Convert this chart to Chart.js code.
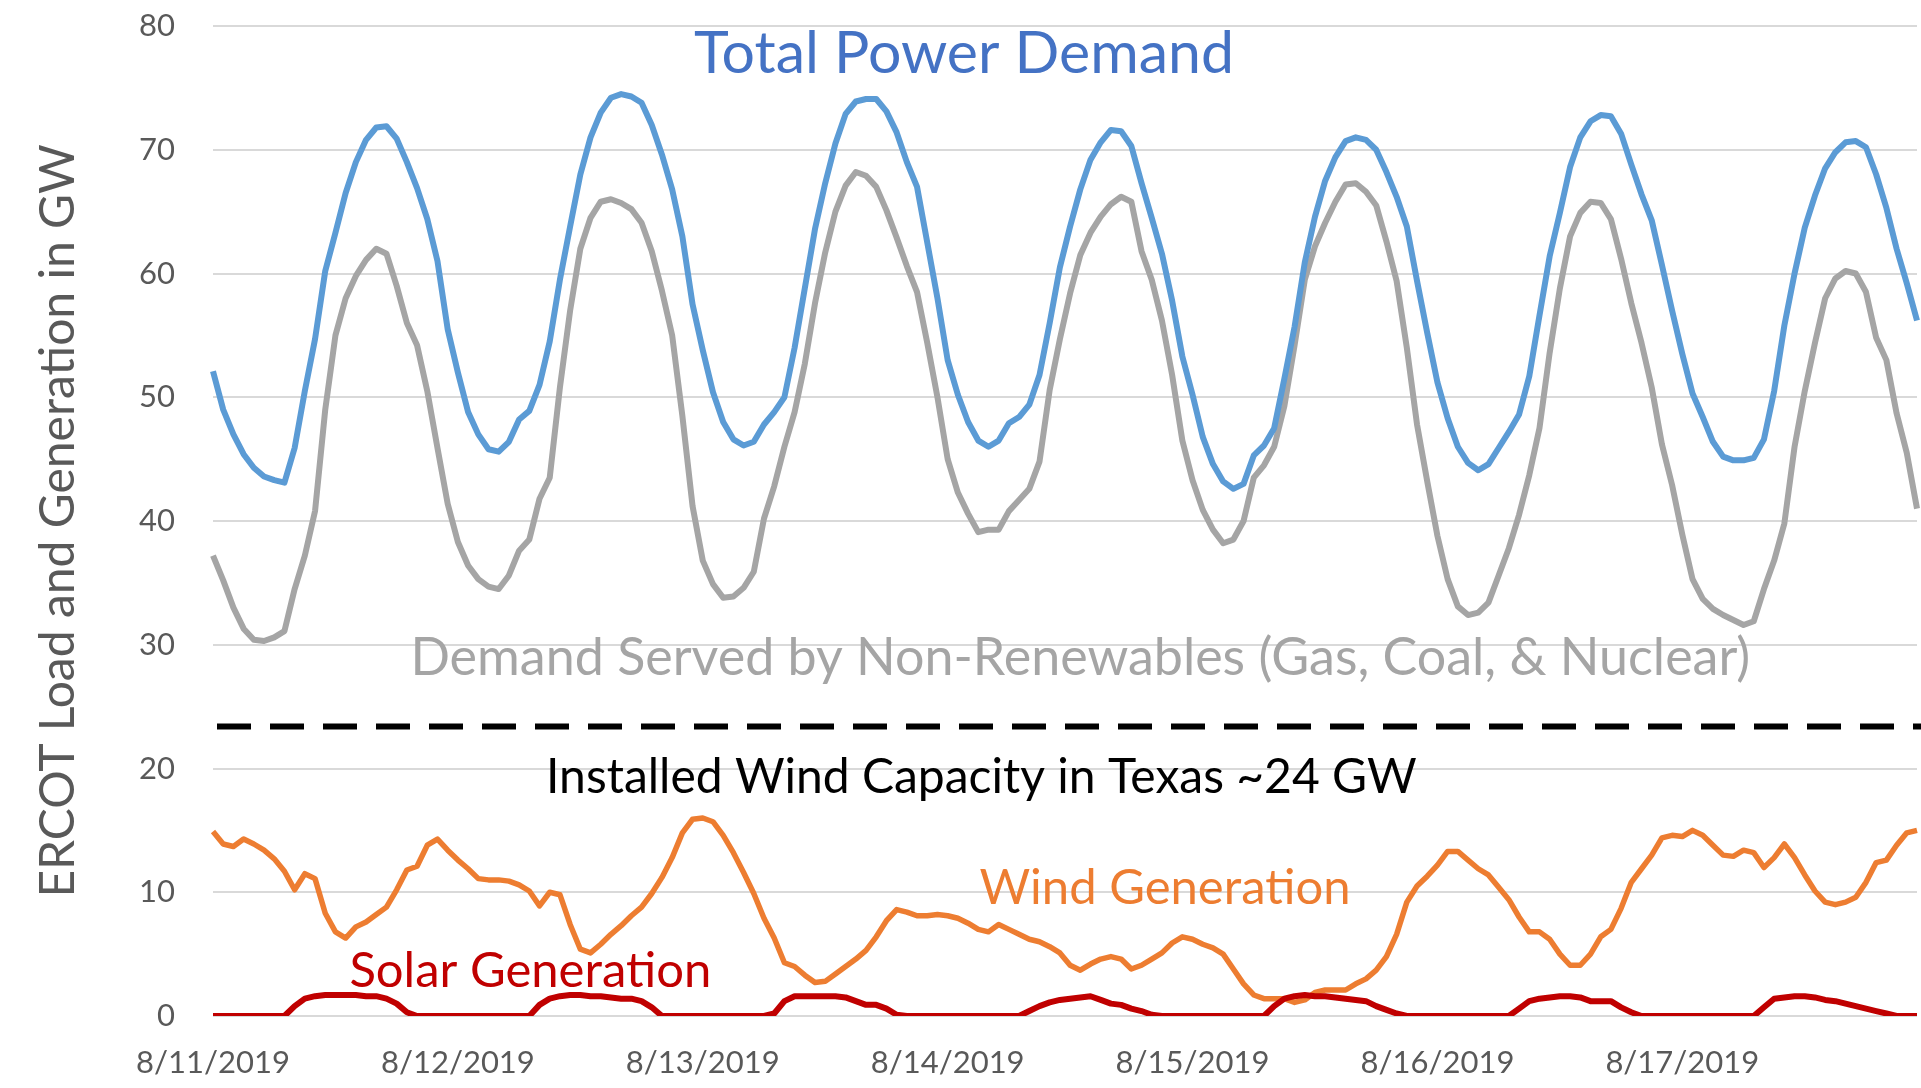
<!DOCTYPE html>
<html>
<head>
<meta charset="utf-8">
<title>ERCOT load and generation, 8/11/2019 - 8/17/2019</title>
<script src="https://cdn.jsdelivr.net/npm/chart.js@4.4.1/dist/chart.umd.min.js"></script>
<style>
  html, body { margin: 0; padding: 0; background: #fff; }
  #wrap { width: 1921px; height: 1088px; }
</style>
</head>
<body>
<div id="wrap"><canvas id="chart" width="1921" height="1088"></canvas></div>
<script>
// one tick label per day, hourly values below (24 per day)
const dayLabels = ['8/11/2019', '8/12/2019', '8/13/2019', '8/14/2019', '8/15/2019', '8/16/2019', '8/17/2019'];

// total load, GW
const totalDemand = [
  52.1, 49, 47, 45.4, 44.3, 43.6, 43.3, 43.1, 45.9, 50.5, 54.7, 60.2, 63.3, 66.5, 69, 70.8, 71.8, 71.9, 70.9, 69, 66.9, 64.4, 61, 55.5,
  52, 48.8, 47, 45.8, 45.6, 46.4, 48.2, 48.9, 51, 54.5, 59.5, 63.8, 68, 71, 73, 74.2, 74.5, 74.3, 73.8, 72, 69.6, 66.8, 63, 57.5,
  53.8, 50.4, 48, 46.6, 46.1, 46.4, 47.8, 48.8, 50, 54, 58.8, 63.6, 67.3, 70.5, 72.9, 73.9, 74.1, 74.1, 73.1, 71.4, 69, 67, 62.5, 58,
  53, 50.2, 48, 46.5, 46, 46.5, 47.9, 48.4, 49.4, 51.8, 56, 60.5, 63.8, 66.8, 69.2, 70.6, 71.6, 71.5, 70.3, 67.3, 64.5, 61.6, 57.8, 53.3,
  50.2, 46.8, 44.6, 43.2, 42.6, 43, 45.3, 46.1, 47.5, 51.5, 55.7, 60.9, 64.6, 67.5, 69.4, 70.7, 71, 70.8, 70, 68.2, 66.2, 63.8, 59.4, 55.2,
  51.2, 48.3, 46, 44.7, 44.1, 44.6, 45.9, 47.2, 48.6, 51.7, 56.6, 61.4, 64.9, 68.6, 71, 72.3, 72.8, 72.7, 71.3, 68.8, 66.4, 64.3, 60.7, 57,
  53.5, 50.3, 48.4, 46.4, 45.2, 44.9, 44.9, 45.1, 46.6, 50.5, 55.8, 60, 63.7, 66.3, 68.5, 69.8, 70.6, 70.7, 70.2, 68, 65.3, 62, 59.2, 56.2
];

// load served by gas, coal and nuclear, GW
const nonRenewables = [
  37.2, 35.2, 33, 31.3, 30.4, 30.3, 30.6, 31.1, 34.5, 37.2, 40.8, 49, 55, 58, 59.8, 61.1, 62, 61.6, 59, 56, 54.2, 50.5, 45.9, 41.4,
  38.3, 36.4, 35.3, 34.7, 34.5, 35.6, 37.6, 38.5, 41.8, 43.5, 50.8, 57, 62, 64.5, 65.8, 66, 65.7, 65.2, 64.1, 61.8, 58.6, 55, 48.5, 41.2,
  36.8, 34.9, 33.8, 33.9, 34.6, 35.9, 40.2, 42.8, 46, 48.8, 52.7, 57.6, 61.7, 65, 67.1, 68.2, 67.9, 67, 65.1, 62.9, 60.6, 58.5, 54.4, 50,
  45, 42.3, 40.6, 39.1, 39.3, 39.3, 40.8, 41.7, 42.6, 44.8, 50.6, 54.7, 58.4, 61.5, 63.3, 64.6, 65.6, 66.2, 65.8, 61.8, 59.5, 56.2, 51.8, 46.5,
  43.3, 40.9, 39.3, 38.2, 38.5, 40, 43.5, 44.5, 46, 49.3, 54.2, 59.5, 62.2, 64.1, 65.8, 67.2, 67.3, 66.6, 65.5, 62.6, 59.4, 54, 47.8, 43.2,
  38.8, 35.3, 33.1, 32.4, 32.6, 33.4, 35.6, 37.8, 40.5, 43.7, 47.5, 53.6, 58.8, 63, 64.9, 65.8, 65.7, 64.4, 61.2, 57.6, 54.4, 50.8, 46.2, 42.9,
  38.9, 35.3, 33.7, 32.9, 32.4, 32, 31.6, 31.9, 34.5, 36.8, 39.8, 46, 50.5, 54.4, 58, 59.6, 60.2, 60, 58.5, 54.8, 53, 48.7, 45.5, 41
];

// wind generation, GW
const windGen = [
  14.9, 13.9, 13.7, 14.3, 13.9, 13.4, 12.7, 11.7, 10.2, 11.5, 11.1, 8.3, 6.8, 6.3, 7.2, 7.6, 8.2, 8.8, 10.2, 11.8, 12.1, 13.8, 14.3, 13.4,
  12.6, 11.9, 11.1, 11, 11, 10.9, 10.6, 10.1, 8.9, 10, 9.8, 7.4, 5.4, 5.1, 5.8, 6.6, 7.3, 8.1, 8.8, 9.9, 11.2, 12.8, 14.8, 15.9,
  16, 15.7, 14.6, 13.2, 11.6, 9.9, 7.9, 6.3, 4.3, 4, 3.3, 2.7, 2.8, 3.4, 4, 4.6, 5.3, 6.4, 7.7, 8.6, 8.4, 8.1, 8.1, 8.2,
  8.1, 7.9, 7.5, 7, 6.8, 7.4, 7, 6.6, 6.2, 6, 5.6, 5.1, 4.1, 3.7, 4.2, 4.6, 4.8, 4.6, 3.8, 4.1, 4.6, 5.1, 5.9, 6.4,
  6.2, 5.8, 5.5, 5, 3.8, 2.6, 1.7, 1.4, 1.4, 1.4, 1.1, 1.3, 1.9, 2.1, 2.1, 2.1, 2.6, 3, 3.7, 4.8, 6.6, 9.2, 10.5, 11.3,
  12.2, 13.3, 13.3, 12.6, 11.9, 11.4, 10.4, 9.4, 8, 6.8, 6.8, 6.2, 5, 4.1, 4.1, 5, 6.4, 7, 8.7, 10.8, 11.9, 13, 14.4, 14.6,
  14.5, 15, 14.6, 13.8, 13, 12.9, 13.4, 13.2, 12, 12.8, 13.9, 12.8, 11.4, 10.1, 9.2, 9, 9.2, 9.6, 10.8, 12.4, 12.6, 13.8, 14.8, 15
];

// solar generation, GW
const solarGen = [
  0, 0, 0, 0, 0, 0, 0, 0, 0.8, 1.4, 1.6, 1.7, 1.7, 1.7, 1.7, 1.6, 1.6, 1.4, 1, 0.3, 0, 0, 0, 0,
  0, 0, 0, 0, 0, 0, 0, 0, 0.9, 1.4, 1.6, 1.7, 1.7, 1.6, 1.6, 1.5, 1.4, 1.4, 1.2, 0.7, 0, 0, 0, 0,
  0, 0, 0, 0, 0, 0, 0, 0.2, 1.2, 1.6, 1.6, 1.6, 1.6, 1.6, 1.5, 1.2, 0.9, 0.9, 0.6, 0.1, 0, 0, 0, 0,
  0, 0, 0, 0, 0, 0, 0, 0, 0.4, 0.8, 1.1, 1.3, 1.4, 1.5, 1.6, 1.3, 1, 0.9, 0.6, 0.4, 0.1, 0, 0, 0,
  0, 0, 0, 0, 0, 0, 0, 0, 0.8, 1.4, 1.6, 1.7, 1.6, 1.6, 1.5, 1.4, 1.3, 1.2, 0.8, 0.5, 0.2, 0, 0, 0,
  0, 0, 0, 0, 0, 0, 0, 0, 0.6, 1.2, 1.4, 1.5, 1.6, 1.6, 1.5, 1.2, 1.2, 1.2, 0.7, 0.3, 0, 0, 0, 0,
  0, 0, 0, 0, 0, 0, 0, 0, 0.7, 1.4, 1.5, 1.6, 1.6, 1.5, 1.3, 1.2, 1, 0.8, 0.6, 0.4, 0.2, 0, 0, 0
];

// installed wind capacity reference line, GW
const windCapacity = 23.4;

const hours = [];
dayLabels.forEach((d) => {
  for (let h = 0; h < 24; h++) hours.push(d + ' ' + h + ':00');
});

// in-plot labels, anchored in chart units (hour index, GW)
const notes = [
  { text: 'Total Power Demand', color: '#4472C4', size: 59, hour: 73.6, gw: 77.7 },
  { text: 'Demand Served by Non-Renewables (Gas, Coal, & Nuclear)', color: '#A5A5A5', size: 52, hour: 85, gw: 28.9 },
  { text: 'Installed Wind Capacity in Texas ~24 GW', color: '#000000', size: 48, hour: 75.3, gw: 19.3 },
  { text: 'Wind Generation', color: '#ED7D31', size: 49, hour: 93.3, gw: 10.3 },
  { text: 'Solar Generation', color: '#C00000', size: 49, hour: 31.1, gw: 3.6 }
];

const overlay = {
  id: 'overlay',
  beforeDatasetsDraw(chart) {
    const { ctx, chartArea, scales } = chart;
    const y = scales.y.getPixelForValue(windCapacity);
    ctx.save();
    ctx.strokeStyle = '#000';
    ctx.lineWidth = 6;
    ctx.setLineDash([34, 19]);
    ctx.beginPath();
    ctx.moveTo(chartArea.left + 4, y);
    ctx.lineTo(chartArea.right + 4, y);
    ctx.stroke();
    ctx.restore();
  },
  afterDatasetsDraw(chart) {
    const { ctx, scales } = chart;
    ctx.save();
    ctx.textAlign = 'center';
    ctx.textBaseline = 'middle';
    notes.forEach((n) => {
      ctx.font = n.size + 'px Lato';
      ctx.fillStyle = n.color;
      ctx.fillText(n.text, scales.x.getPixelForValue(n.hour), scales.y.getPixelForValue(n.gw));
    });
    ctx.restore();
  }
};

function series(data, color, width) {
  return {
    data: data,
    borderColor: color,
    borderWidth: width,
    pointRadius: 0,
    tension: 0,
    fill: false,
    borderJoinStyle: 'round'
  };
}

Chart.defaults.font.family = 'Lato';

new Chart(document.getElementById('chart'), {
  type: 'line',
  data: {
    labels: hours,
    datasets: [
      series(solarGen, '#C00000', 6),
      series(windGen, '#ED7D31', 5.5),
      series(totalDemand, '#5B9BD5', 6),
      series(nonRenewables, '#A5A5A5', 6)
    ]
  },
  options: {
    responsive: false,
    devicePixelRatio: 1,
    animation: false,
    layout: { padding: { top: 26, right: 4, left: 0, bottom: 0 } },
    plugins: { legend: { display: false }, tooltip: { enabled: false } },
    scales: {
      x: {
        type: 'category',
        grid: { display: false },
        border: { display: false },
        afterFit(scale) { scale.height = 72; },
        ticks: {
          autoSkip: false,
          maxRotation: 0,
          padding: 20,
          color: '#595959',
          font: { size: 31 },
          callback(value, index) {
            return index % 24 === 0 ? dayLabels[index / 24] : null;
          }
        }
      },
      y: {
        min: 0,
        max: 80,
        afterFit(scale) { scale.width = 213; },
        // tick marks are hidden; their length makes the gap to the labels
        grid: { color: '#D9D9D9', lineWidth: 2, drawTicks: true, tickLength: 32, tickColor: 'rgba(0,0,0,0)' },
        border: { display: false },
        ticks: { stepSize: 10, padding: 6, color: '#595959', font: { size: 31 } },
        title: {
          display: true,
          text: 'ERCOT Load and Generation in GW',
          color: '#595959',
          font: { size: 48 },
          padding: { top: 30, bottom: 0 }
        }
      }
    }
  },
  plugins: [overlay]
});
</script>
</body>
</html>
